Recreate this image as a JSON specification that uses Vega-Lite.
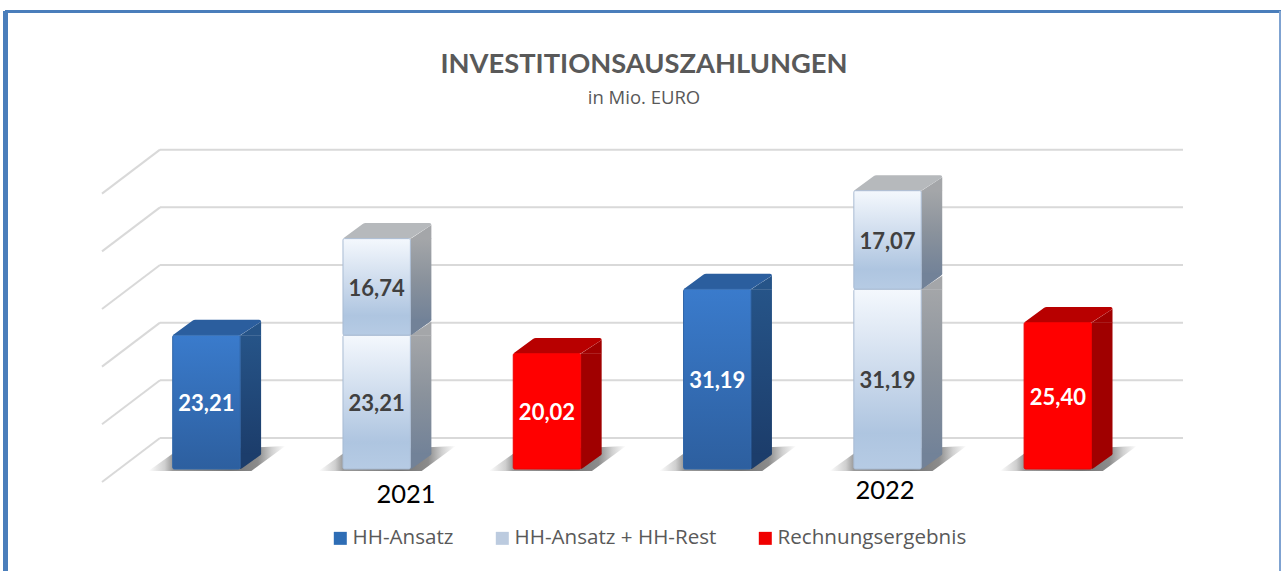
{"$schema":"https://vega.github.io/schema/vega-lite/v6.json","width":1281,"height":571,"padding":0,"autosize":{"type":"none"},"background":"white",
"title":{"text":"INVESTITIONSAUSZAHLUNGEN","subtitle":"in Mio. EURO","anchor":"middle","frame":"group","dx":3.5,"dy":111,"font":"Lato","fontSize":27.3,"fontWeight":"bold","color":"#595959","subtitleFont":"Open Sans","subtitleFontSize":18.5,"subtitleColor":"#595959","subtitlePadding":10},
"config":{"view":{"stroke":null}},
"data":{"values":[
{"year":"2021","series":"HH-Ansatz","pos":1,"start":0,"end":23.21,"label":"23,21","part":"top"},
{"year":"2021","series":"HH-Ansatz + HH-Rest","pos":2,"start":0,"end":23.21,"label":"23,21","part":"base"},
{"year":"2021","series":"HH-Ansatz + HH-Rest","pos":2,"start":23.21,"end":39.95,"label":"16,74","part":"top"},
{"year":"2021","series":"Rechnungsergebnis","pos":3,"start":0,"end":20.02,"label":"20,02","part":"top"},
{"year":"2022","series":"HH-Ansatz","pos":4,"start":0,"end":31.19,"label":"31,19","part":"top"},
{"year":"2022","series":"HH-Ansatz + HH-Rest","pos":5,"start":0,"end":31.19,"label":"31,19","part":"base"},
{"year":"2022","series":"HH-Ansatz + HH-Rest","pos":5,"start":31.19,"end":48.26,"label":"17,07","part":"top"},
{"year":"2022","series":"Rechnungsergebnis","pos":6,"start":0,"end":25.40,"label":"25,40","part":"top"}
]},
"layer":[
{"data":{"values":[{"tick":0},{"tick":10},{"tick":20},{"tick":30},{"tick":40},{"tick":50}]},
 "mark":{"type":"rule","color":"#d9d9d9","strokeWidth":2,"yOffset":-31,"y2Offset":-31},
 "encoding":{"x":{"datum":0.7275,"type":"quantitative","scale":{"domain":[-0.2121,7.3107],"nice":false,"zero":false,"padding":0},"axis":null},"x2":{"datum":6.7353},"y":{"field":"tick","type":"quantitative","scale":{"domain":[-17.69,81.33],"nice":false,"zero":false},"axis":null},"y2":{"field":"tick"}}},
{"data":{"values":[{"tick":0},{"tick":10},{"tick":20},{"tick":30},{"tick":40},{"tick":50}]},
 "mark":{"type":"rule","color":"#d9d9d9","strokeWidth":2,"yOffset":-31,"y2Offset":13},
 "encoding":{"x":{"datum":0.7275,"type":"quantitative","scale":{"domain":[-0.2121,7.3107],"nice":false,"zero":false,"padding":0},"axis":null},"x2":{"datum":0.3869},"y":{"field":"tick","type":"quantitative","scale":{"domain":[-17.69,81.33],"nice":false,"zero":false},"axis":null},"y2":{"field":"tick"}}},
{"mark":{"type":"rule","color":"#4a7ebb","strokeWidth":5},"encoding":{"x":{"datum":-0.1798,"type":"quantitative","scale":{"domain":[-0.2121,7.3107],"nice":false,"zero":false,"padding":0},"axis":null},"y":{"datum":79.33,"type":"quantitative","scale":{"domain":[-17.69,81.33],"nice":false,"zero":false},"axis":null},"y2":{"datum":-17.69}}},
{"mark":{"type":"rule","color":"#4a7ebb","strokeWidth":3},"encoding":{"x":{"datum":-0.1798,"type":"quantitative","scale":{"domain":[-0.2121,7.3107],"nice":false,"zero":false,"padding":0},"axis":null},"x2":{"datum":7.3107},"y":{"datum":79.33,"type":"quantitative","scale":{"domain":[-17.69,81.33],"nice":false,"zero":false},"axis":null}}},
{"mark":{"type":"rule","color":"#7fa3d1","strokeWidth":1.5},"encoding":{"x":{"datum":7.3048,"type":"quantitative","scale":{"domain":[-0.2121,7.3107],"nice":false,"zero":false,"padding":0},"axis":null},"y":{"datum":79.33,"type":"quantitative","scale":{"domain":[-17.69,81.33],"nice":false,"zero":false},"axis":null},"y2":{"datum":-17.69}}},
{"transform":[{"filter":{"field":"start","equal":0}}],
 "mark":{"type":"point","shape":"M-58,2 L-30,-18 L79,-23 L45,2 Z","size":4,"filled":true,"opacity":1,"strokeWidth":0,"fill":{"x1":0,"y1":0,"x2":1,"y2":0,"gradient":"linear","stops":[{"offset":0,"color":"#ffffff"},{"offset":0.12,"color":"#cfcfcf"},{"offset":0.177,"color":"#9a9a9a"},{"offset":0.6,"color":"#777777"},{"offset":0.8,"color":"#8c8c8c"},{"offset":0.9,"color":"#d0d0d0"},{"offset":1,"color":"#ffffff"}]}},
 "encoding":{"x":{"field":"pos","type":"quantitative","scale":{"domain":[-0.2121,7.3107],"nice":false,"zero":false,"padding":0},"axis":null},"y":{"field":"start","type":"quantitative","scale":{"domain":[-17.69,81.33],"nice":false,"zero":false},"axis":null}}},
{"mark":{"type":"bar","width":21,"xOffset":44.2,"y2Offset":-15},
 "encoding":{"x":{"field":"pos","type":"quantitative","scale":{"domain":[-0.2121,7.3107],"nice":false,"zero":false,"padding":0},"axis":null},"y":{"field":"end","type":"quantitative","scale":{"domain":[-17.69,81.33],"nice":false,"zero":false},"axis":null},"y2":{"field":"start"},
 "fill":{"condition":[{"test":"datum.series==='HH-Ansatz'","value":{"x1":0,"y1":0,"x2":0,"y2":1,"gradient":"linear","stops":[{"offset":0,"color":"#265488"},{"offset":1,"color":"#1c3d6b"}]}},{"test":"datum.series==='Rechnungsergebnis'","value":"#a00000"}],"value":{"x1":0,"y1":0,"x2":0,"y2":1,"gradient":"linear","stops":[{"offset":0,"color":"#a4a6a9"},{"offset":0.5,"color":"#8a929c"},{"offset":1,"color":"#728298"}]}}}},
{"mark":{"type":"point","shape":"M33.7,0.3 L54.7,-13.5 L54.7,0.3 Z","size":4,"filled":true,"opacity":1,"strokeWidth":0},
 "encoding":{"x":{"field":"pos","type":"quantitative","scale":{"domain":[-0.2121,7.3107],"nice":false,"zero":false,"padding":0},"axis":null},"y":{"field":"end","type":"quantitative","scale":{"domain":[-17.69,81.33],"nice":false,"zero":false},"axis":null},
 "fill":{"condition":[{"test":"datum.series==='HH-Ansatz'","value":"#265488"},{"test":"datum.series==='Rechnungsergebnis'","value":"#a00000"}],"value":"#a4a6a9"}}},
{"mark":{"type":"point","shape":"M33.7,0 L33.7,-15.3 L54.7,-15.3 Q54.7,-14 52.7,-13 L36,-1 Q34.7,0 33.7,0 Z","size":4,"filled":true,"opacity":1,"strokeWidth":0},
 "encoding":{"x":{"field":"pos","type":"quantitative","scale":{"domain":[-0.2121,7.3107],"nice":false,"zero":false,"padding":0},"axis":null},"y":{"field":"start","type":"quantitative","scale":{"domain":[-17.69,81.33],"nice":false,"zero":false},"axis":null},
 "fill":{"condition":[{"test":"datum.series==='HH-Ansatz'","value":"#1c3d6b"},{"test":"datum.series==='Rechnungsergebnis'","value":"#a00000"}],"value":"#728298"}}},
{"transform":[{"filter":{"field":"part","equal":"top"}}],
 "mark":{"type":"point","shape":"M-33.7,0 L-14,-14.5 Q-12.7,-15.5 -11,-15.5 L52.7,-15.5 Q54.7,-15.5 54.7,-13.5 L33.7,0 Z","size":4,"filled":true,"opacity":1,"strokeWidth":0},
 "encoding":{"x":{"field":"pos","type":"quantitative","scale":{"domain":[-0.2121,7.3107],"nice":false,"zero":false,"padding":0},"axis":null},"y":{"field":"end","type":"quantitative","scale":{"domain":[-17.69,81.33],"nice":false,"zero":false},"axis":null},
 "fill":{"condition":[{"test":"datum.series==='HH-Ansatz'","value":"#2b5e9e"},{"test":"datum.series==='Rechnungsergebnis'","value":"#b80000"}],"value":"#b6b9bc"}}},
{"mark":{"type":"bar","width":67.4,"strokeWidth":1,"cornerRadius":1.5},
 "encoding":{"x":{"field":"pos","type":"quantitative","scale":{"domain":[-0.2121,7.3107],"nice":false,"zero":false,"padding":0},"axis":null},"y":{"field":"end","type":"quantitative","scale":{"domain":[-17.69,81.33],"nice":false,"zero":false},"axis":null},"y2":{"field":"start"},
 "fill":{"condition":[{"test":"datum.series==='HH-Ansatz'","value":{"x1":0,"y1":0,"x2":0,"y2":1,"gradient":"linear","stops":[{"offset":0,"color":"#3a7bcc"},{"offset":1,"color":"#2d5f9f"}]}},{"test":"datum.series==='Rechnungsergebnis'","value":"#ff0000"}],"value":{"x1":0,"y1":0,"x2":0,"y2":1,"gradient":"linear","stops":[{"offset":0,"color":"#f4f8fd"},{"offset":0.5,"color":"#c9d8eb"},{"offset":0.8,"color":"#aec5e0"},{"offset":1,"color":"#b6cbe4"}]}},
 "stroke":{"condition":[{"test":"datum.series==='HH-Ansatz'","value":"#2f65a8"},{"test":"datum.series==='Rechnungsergebnis'","value":"#ee0000"}],"value":"#a9bbd3"}}},
{"transform":[{"fold":["start","end"],"as":["edge","level"]}],
 "mark":{"type":"text","font":"Lato","fontWeight":"bold","fontSize":22,"align":"center","baseline":"middle","dy":2},
 "encoding":{"x":{"field":"pos","type":"quantitative","scale":{"domain":[-0.2121,7.3107],"nice":false,"zero":false,"padding":0},"axis":null},"y":{"aggregate":"mean","field":"level","type":"quantitative","scale":{"domain":[-17.69,81.33],"nice":false,"zero":false},"axis":null},"detail":{"field":"series"},"text":{"field":"label"},
 "fill":{"condition":{"test":"datum.series==='HH-Ansatz + HH-Rest'","value":"#404040"},"value":"#ffffff"}}},
{"data":{"values":[{"year":"2021","pos":2.172,"level":-4.5},{"year":"2022","pos":4.985,"level":-3.8}]},
 "mark":{"type":"text","font":"Lato","fontSize":25.5,"color":"#000000","align":"center","baseline":"middle"},
 "encoding":{"x":{"field":"pos","type":"quantitative","scale":{"domain":[-0.2121,7.3107],"nice":false,"zero":false,"padding":0},"axis":null},"y":{"field":"level","type":"quantitative","scale":{"domain":[-17.69,81.33],"nice":false,"zero":false},"axis":null},"text":{"field":"year"}}},
{"mark":{"type":"point","size":0,"filled":true,"opacity":1},
 "encoding":{"x":{"field":"pos","type":"quantitative","scale":{"domain":[-0.2121,7.3107],"nice":false,"zero":false,"padding":0},"axis":null},"y":{"field":"start","type":"quantitative","scale":{"domain":[-17.69,81.33],"nice":false,"zero":false},"axis":null},
 "fill":{"field":"series","type":"nominal","scale":{"domain":["HH-Ansatz","HH-Ansatz + HH-Rest","Rechnungsergebnis"],"range":["#2e6db5","#bccbdf","#f00000"]},
 "legend":{"orient":"none","legendX":330,"legendY":528,"direction":"horizontal","columns":3,"title":null,"symbolType":"square","symbolSize":169,"symbolStrokeWidth":0,"symbolOpacity":1,"labelFont":"Open Sans","labelFontSize":20.6,"labelColor":"#595959","labelOffset":2,"columnPadding":38,"labelLimit":300}}}}
]}
